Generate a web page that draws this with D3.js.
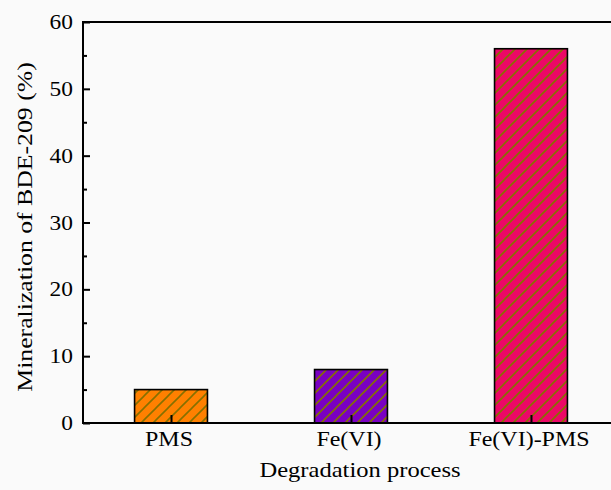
<!DOCTYPE html>
<html>
<head>
<meta charset="utf-8">
<script src="https://cdn.jsdelivr.net/npm/d3@7/dist/d3.min.js"></script>
<style>
  html, body { margin: 0; padding: 0; background: #fafafa; }
  svg { display: block; }
  text { font-family: "Liberation Serif", "Times New Roman", serif; fill: #000; }
</style>
</head>
<body>
<svg id="chart" width="611" height="490"></svg>
<script>
// Mineralization of BDE-209 by degradation process
const categories = ["PMS", "Fe(VI)", "Fe(VI)-PMS"];
const values = [5, 8, 56];
const colors = ["#ff8000", "#7a00c2", "#ec0866"];
const yTicks = [0, 10, 20, 30, 40, 50, 60];
const yMinorTicks = [5, 15, 25, 35, 45, 55];

const W = 611, H = 490;
const plotLeft = 83, plotTop = 22, plotBottom = 423;
const stretch = 1.17; // wide serif glyphs

const svg = d3.select("#chart");

const x = d3.scalePoint().domain(categories).range([plotLeft, 619]).padding(0.489);
const y = d3.scaleLinear().domain([0, 60]).range([plotBottom, plotTop]);
const barW = x.step() * 0.405;

// hatch patterns, one per bar colour
const defs = svg.append("defs");
const hs = 12;
categories.forEach((c, i) => {
  const p = defs.append("pattern")
    .attr("id", "hatch" + i)
    .attr("patternUnits", "userSpaceOnUse")
    .attr("width", hs).attr("height", hs);
  p.append("rect").attr("width", hs).attr("height", hs).attr("fill", colors[i]);
  p.append("path")
    .attr("d", `M-3,3 L3,-3 M0,${hs} L${hs},0 M${hs - 3},${hs + 3} L${hs + 3},${hs - 3}`)
    .attr("stroke", "#857000").attr("stroke-width", 1.6).attr("fill", "none");
});

// bars
svg.append("g").selectAll("rect")
  .data(categories)
  .join("rect")
  .attr("x", (d) => x(d) - barW / 2)
  .attr("y", (d, i) => y(values[i]))
  .attr("width", barW)
  .attr("height", (d, i) => plotBottom - y(values[i]))
  .attr("fill", (d, i) => `url(#hatch${i})`)
  .attr("stroke", "#000")
  .attr("stroke-width", 1.6);

// frame: left axis, bottom axis, top line
const axisG = svg.append("g").attr("stroke", "#000").attr("stroke-width", 2).attr("fill", "none");
axisG.append("line").attr("x1", plotLeft).attr("x2", plotLeft).attr("y1", plotTop).attr("y2", plotBottom);
axisG.append("line").attr("x1", plotLeft - 1).attr("x2", W).attr("y1", plotBottom).attr("y2", plotBottom);
axisG.append("line").attr("x1", plotLeft - 1).attr("x2", W).attr("y1", plotTop).attr("y2", plotTop);

// y ticks (inward)
const yAxis = d3.axisRight(y).tickValues(yTicks).tickSize(7).tickFormat("");
const yg = svg.append("g").attr("transform", `translate(${plotLeft},0)`).call(yAxis);
yg.select(".domain").remove();
yg.selectAll(".tick line").attr("stroke", "#000").attr("stroke-width", 2);
const yMinor = d3.axisRight(y).tickValues(yMinorTicks).tickSize(4).tickFormat("");
const ymg = svg.append("g").attr("transform", `translate(${plotLeft},0)`).call(yMinor);
ymg.select(".domain").remove();
ymg.selectAll(".tick line").attr("stroke", "#000").attr("stroke-width", 2);

// x ticks (inward)
const xAxis = d3.axisTop(x).tickSize(8).tickFormat("");
const xg = svg.append("g").attr("transform", `translate(0,${plotBottom})`).call(xAxis);
xg.select(".domain").remove();
xg.selectAll(".tick line").attr("stroke", "#000").attr("stroke-width", 2);

// y tick labels
svg.append("g").selectAll("text")
  .data(yTicks)
  .join("text")
  .attr("transform", (d) => `translate(73,${y(d) + 7}) scale(${stretch},1)`)
  .attr("text-anchor", "end")
  .attr("font-size", 20)
  .text((d) => d);

// x tick labels
svg.append("g").selectAll("text")
  .data(categories)
  .join("text")
  .attr("transform", (d) => `translate(${x(d) - 2},446) scale(${stretch},1)`)
  .attr("text-anchor", "middle")
  .attr("font-size", 20.5)
  .text((d) => d);

// axis titles
svg.append("text")
  .attr("transform", `translate(360,477) scale(${stretch},1)`)
  .attr("text-anchor", "middle")
  .attr("font-size", 21)
  .text("Degradation process");

svg.append("text")
  .attr("transform", `translate(32,227) rotate(-90) scale(${stretch},1)`)
  .attr("text-anchor", "middle")
  .attr("font-size", 22)
  .text("Mineralization of BDE-209 (%)");
</script>
</body>
</html>
